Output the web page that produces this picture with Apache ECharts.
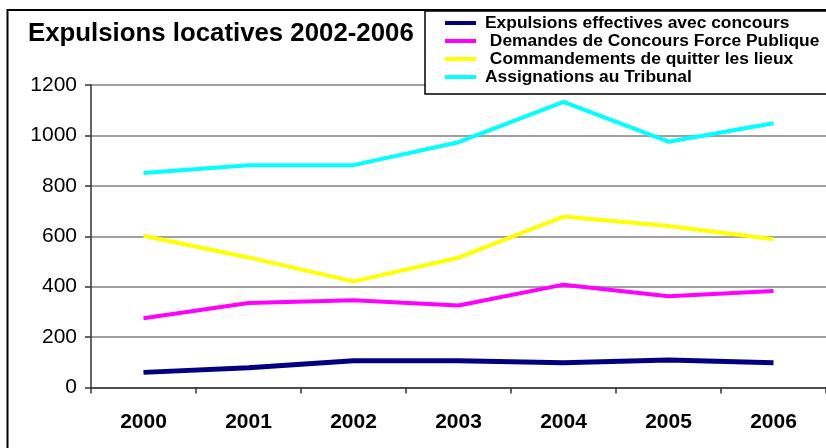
<!DOCTYPE html>
<html>
<head>
<meta charset="utf-8">
<script src="https://cdn.jsdelivr.net/npm/echarts@6/dist/echarts.min.js"></script>
<style>
html,body{margin:0;padding:0;background:#fff;}
#chart{width:826px;height:448px;}
</style>
</head>
<body>
<div id="chart"></div>
<script>
const categories = ['2000', '2001', '2002', '2003', '2004', '2005', '2006'];
const seriesNames = [
  'Expulsions effectives avec concours',
  ' Demandes de Concours Force Publique',
  ' Commandements de quitter les lieux',
  'Assignations au Tribunal'
];
const expulsions = [60, 78, 106, 106, 98, 109, 98];
const demandes = [275, 335, 346, 325, 408, 362, 383];
const commandements = [602, 516, 421, 515, 678, 641, 588];
const assignations = [851, 882, 882, 973, 1133, 975, 1048];
const yTicks = [0, 200, 400, 600, 800, 1000, 1200];
const titleText = 'Expulsions locatives 2002-2006';

const colors = ['#000080', '#FF00FF', '#FFFF00', '#00FFFF'];
const values = [expulsions, demandes, commandements, assignations];
const FONT = '"Liberation Sans", Arial, sans-serif';

const chart = echarts.init(document.getElementById('chart'), null, {renderer: 'canvas'});
chart.setOption({
  animation: false,
  backgroundColor: '#ffffff',
  title: {
    text: titleText,
    left: 28,
    top: 21,
    padding: 0,
    textStyle: {fontFamily: FONT, fontSize: 25.8, fontWeight: 'bold', color: '#000'}
  },
  graphic: [{
    type: 'rect',
    z: 0,
    shape: {x: 7.5, y: 10, width: 900, height: 500},
    style: {fill: 'none', stroke: '#000', lineWidth: 2}
  }],
  legend: {
    orient: 'vertical',
    left: 425,
    top: 11,
    padding: [3, 400, 8, 20],
    itemGap: 0,
    itemWidth: 31,
    itemHeight: 4,
    icon: 'rect',
    backgroundColor: '#ffffff',
    borderColor: '#000',
    borderWidth: 1.5,
    z: 10,
    textStyle: {fontFamily: FONT, fontSize: 17.4, fontWeight: 'bold', color: '#000', lineHeight: 18, padding: [0, 0, 0, 4]},
    data: seriesNames
  },
  grid: {left: 91, top: 85, width: 742, height: 302.5, containLabel: false},
  xAxis: {
    type: 'category',
    data: categories,
    boundaryGap: true,
    axisLine: {lineStyle: {color: '#333', width: 1.5}},
    axisTick: {show: true, length: 6, lineStyle: {color: '#333', width: 1.5}},
    axisLabel: {fontFamily: FONT, fontSize: 21, fontWeight: 'bold', color: '#000', margin: 24},
    splitLine: {show: false}
  },
  yAxis: {
    type: 'value',
    min: yTicks[0],
    max: yTicks[yTicks.length - 1],
    interval: 200,
    axisLine: {show: true, lineStyle: {color: '#333', width: 1.5}},
    axisTick: {show: true, length: 6, lineStyle: {color: '#333', width: 1.5}},
    axisLabel: {fontFamily: FONT, fontSize: 21, color: '#000', margin: 14, formatter: v => String(v)},
    splitLine: {show: true, lineStyle: {color: '#808080', width: 1.5}}
  },
  series: seriesNames.map((n, i) => ({
    name: n,
    type: 'line',
    data: values[i],
    symbol: 'none',
    smooth: false,
    color: colors[i],
    lineStyle: {color: colors[i], width: i === 0 ? 5 : 4},
    z: 3 + i
  }))
});
</script>
</body>
</html>
